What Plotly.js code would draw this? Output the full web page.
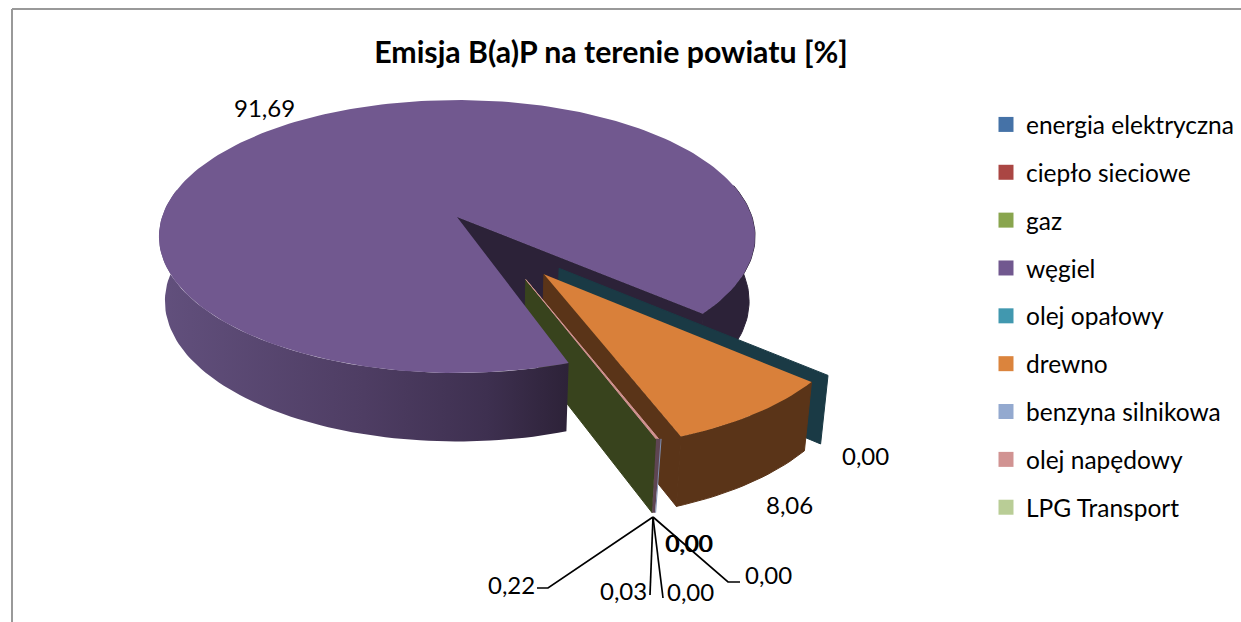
<!DOCTYPE html>
<html><head><meta charset="utf-8">
<script src="https://cdn.plot.ly/plotly-3.0.1.min.js"></script>
<style>html,body{margin:0;padding:0;background:#fff;overflow:hidden}#c{width:1241px;height:622px}</style>
</head><body><div id="c"></div>
<script>
const categories = ["energia elektryczna","ciepło sieciowe","gaz","węgiel","olej opałowy","drewno","benzyna silnikowa","olej napędowy","LPG Transport"];
const values = [0.00,0.00,0.22,91.69,0.00,8.06,0.00,0.03,0.00];
const legendColors = ["#4572a7","#aa4643","#89a54e","#71588f","#4198af","#db843d","#93a9cf","#d19392","#b9cd96"];
const topColors = {2:"#89a54e",3:"#71588f",5:"#d9803a",7:"#d19392"};
const wallColors = {2:"#38431d",3:"#2c2238",4:"#1a3a45",5:"#5a3418",7:"#5e4552",6:"#7f8fb0"};
const title = "Emisja B(a)P na terenie powiatu [%]";

// projection of the tilted pie (screen pixels as axis units)
const CX=457, CY=217, A=295, B=133.7, P=0.143, DEPTH=64, SHR=0.98;
const START=160.1;            // clockwise angle where the first series begins
const EXPLODE=0.49;
const TILT={2:-7,4:7};        // exploded direction tweak
const RADII={2:0.96,3:1,4:0.99,5:0.985};
const DEPTHS={2:1.055};
function proj(X,Y,z){
  const w=1-P*Y;
  let sx=CX+A*X/w, sy=CY+B*Y/w;
  if(z){ sx=CX+(sx-CX)*SHR; sy=sy+DEPTH*z*(1+0.07*Y); }
  return [sx,sy];
}
const rad=d=>d*Math.PI/180;
const total=values.reduce((a,b)=>a+b,0);
let cum=START;
const slices=values.map((v,i)=>{
  const a0=cum, a1=cum+v/total*360; cum=a1;
  const mid=(a0+a1)/2+(TILT[i]||0);
  const off=i===3?[0,0]:[EXPLODE*Math.sin(rad(mid)),-EXPLODE*Math.cos(rad(mid))];
  return {i,a0,a1,off,R:RADII[i]||0.97,D:DEPTHS[i]||1};
});
function rim(s,a,z){return proj(s.off[0]+s.R*Math.sin(rad(a)),s.off[1]-s.R*Math.cos(rad(a)),z*s.D);}
function apex(s,z){return proj(s.off[0],s.off[1],z*s.D);}
function arc(s,a0,a1,z){const n=Math.max(2,Math.ceil(Math.abs(a1-a0)/1.5));const o=[];for(let k=0;k<=n;k++)o.push(rim(s,a0+(a1-a0)*k/n,z));return o;}
function poly(pts,color,extra){
  const p=pts.concat([pts[0]]);
  return Object.assign({x:p.map(q=>q[0]),y:p.map(q=>q[1]),mode:'lines',fill:'toself',fillcolor:color,line:{width:1,color:color},hoverinfo:'skip',showlegend:false,type:'scatter'},extra||{});
}
function sideWall(s,a){return [apex(s,0),rim(s,a,0),rim(s,a,1),apex(s,1)];}
function outerWall(s,a0,a1){return arc(s,a0,a1,0).concat(arc(s,a1,a0,1));}

const coal=slices[3], oil=slices[4], wood=slices[5], gas=slices[2];
const coalEnd=coal.a1-360, frontEnd=coal.a0;
const traces=[];
// coal: right cut wall and right outer wall (back part)
traces.push(poly(sideWall(coal,coalEnd),wallColors[3]));
traces.push(poly(outerWall(coal,coalEnd,76),wallColors[3]));
// oil: zero-width slice shows only its wall
traces.push(poly(sideWall(oil,oil.a0),wallColors[4]));
// wood
traces.push(poly(sideWall(wood,wood.a1),wallColors[5]));
traces.push(poly(outerWall(wood,wood.a0,wood.a1),wallColors[5]));
traces.push(poly([apex(wood,0)].concat(arc(wood,wood.a0,wood.a1,0)),topColors[5],{line:{width:0,color:topColors[5]}}));
// gas wall
traces.push(poly(sideWall(gas,gas.a0),wallColors[2]));
// coal outer wall with gradient (left/front)
const wall=outerWall(coal,frontEnd,282);
traces.push(poly(wall,wallColors[3],{line:{width:0,color:wallColors[3]},fillgradient:{type:'horizontal',colorscale:[[0,'#62507d'],[0.5,'#4e3d63'],[0.8,'#3e3050'],[1,'#2d2238']]}}));
// coal top
traces.push(poly([apex(coal,0)].concat(arc(coal,coal.a0,coal.a1,0)),topColors[3],{line:{width:0,color:topColors[3]}}));
// diesel + petrol slivers
const g0=rim(gas,gas.a0,0), g1=rim(gas,gas.a0,1), ga=apex(gas,0);
traces.push(poly([ga,g0,[g0[0]+3,g0[1]+0.5]],topColors[7]));
traces.push(poly([g0,[g0[0]+5,g0[1]],[g1[0]+3,g1[1]],g1],wallColors[7],{line:{width:0,color:wallColors[7]}}));
traces.push({x:[g0[0]+5,g1[0]+3.5],y:[g0[1],g1[1]],mode:'lines',line:{color:wallColors[6],width:1},hoverinfo:'skip',showlegend:false,type:'scatter'});

// leader lines from the sliver foot
const foot=[653,517];
const leaders=[[[548,588],[537,588]],[[650,595]],[[663,598]],[[728,582],[740,582]]];
const lx=[],ly=[];
leaders.forEach(l=>{lx.push(foot[0]);ly.push(foot[1]);l.forEach(q=>{lx.push(q[0]);ly.push(q[1]);});lx.push(null);ly.push(null);});
traces.push({x:lx,y:ly,mode:'lines',line:{color:'#000',width:1.7},hoverinfo:'skip',showlegend:false,type:'scatter'});

// legend entries
categories.forEach((c,i)=>traces.push({x:[-100],y:[-100],name:c,legendgroup:c,mode:'markers',type:'scatter',marker:{symbol:'square',size:15,color:legendColors[i]},hoverinfo:'skip'}));

const fmt=v=>v.toFixed(2).replace('.',',');
const FONT='Lato, Carlito, Calibri, sans-serif';
const labelPos=[[690,591],[689,542],[511,584],[264,107],[865,455],[789,504],[688,542],[623,590],[768,574]];
const annotations=values.map((v,i)=>({x:labelPos[i][0],y:labelPos[i][1],xref:'x',yref:'y',text:fmt(v),showarrow:false,font:{family:FONT,size:24,color:'#000'}}));

const layout={
  width:1241,height:622,margin:{l:0,r:0,t:0,b:0},paper_bgcolor:'#fff',plot_bgcolor:'#fff',font:{family:FONT,color:'#000'},
  title:{text:'<b>'+title+'</b>',x:611/1241,xanchor:'center',y:1-52/622,yanchor:'middle',font:{family:FONT,size:30.3,color:'#000'}},
  xaxis:{range:[0,1241],visible:false,fixedrange:true},
  yaxis:{range:[622,0],visible:false,fixedrange:true},
  showlegend:true,
  legend:{x:986/1241,xanchor:'left',y:1-102/622,yanchor:'top',font:{family:FONT,size:24.5,color:'#000'},tracegroupgap:13,traceorder:'grouped',itemwidth:30,bgcolor:'rgba(0,0,0,0)'},
  shapes:[
   {type:'line',xref:'x',yref:'y',x0:12,x1:12,y0:9,y1:622,line:{color:'#999',width:2}},
   {type:'line',xref:'x',yref:'y',x0:12,x1:1241,y0:9,y1:9,line:{color:'#999',width:2}}
  ],
  annotations
};
Plotly.newPlot('c',traces,layout,{displayModeBar:false,staticPlot:true});
</script></body></html>
